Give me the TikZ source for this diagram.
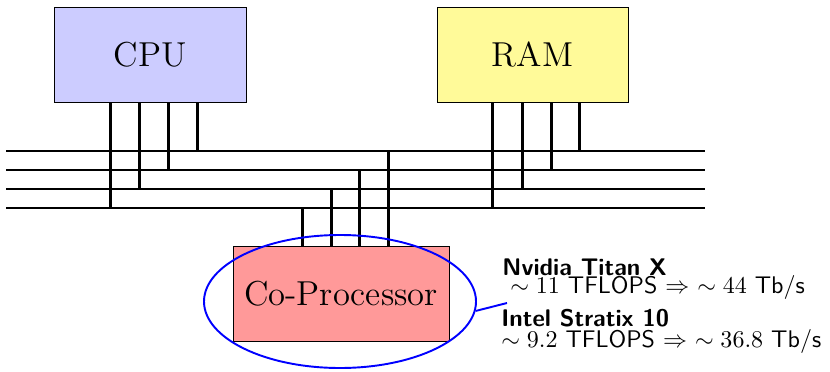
\documentclass[tikz,border=0pt]{standalone}
\usetikzlibrary{shapes.geometric,calc}
\begin{document}
\begin{tikzpicture}[x=0.416pt,y=-0.416pt,
  unitbox/.style={draw,line width=0.4pt,rectangle,minimum width=#1*0.416pt,minimum height=95*0.416pt,inner sep=0pt,font=\Large},
  busline/.style={line width=0.9pt},
  wire/.style={line width=0.9pt},
  spec/.style={anchor=base west,inner sep=0pt,font=\sffamily}]
\useasboundingbox (0,0) rectangle (830,371);
% boxes
\node[unitbox=192,fill=blue!20] (cpu) at (150,54.5) {CPU};
\node[unitbox=191,fill=yellow!40] (ram) at (532.5,54.5) {RAM};
\node[unitbox=216,fill=red!40] (cop) at (341,293.5) {Co-Processor};
% bus lines
\foreach \i/\y in {1/151,2/170,3/189,4/208}{
  \coordinate (b\i w) at (6,\y);
  \coordinate (b\i e) at (705,\y);
  \draw[busline] (b\i w) -- (b\i e);
}
% CPU wires
\foreach \off/\i in {57/4,86/3,115/2,144/1}{
  \draw[wire] ($(cpu.south west)+(\off,0)$) coordinate (t) -- (t |- b\i w);
}
% RAM wires
\foreach \off/\i in {56/4,86/3,115/2,143/1}{
  \draw[wire] ($(ram.south west)+(\off,0)$) coordinate (t) -- (t |- b\i w);
}
% Co-processor wires
\foreach \off/\i in {70/4,99/3,127/2,156/1}{
  \draw[wire] ($(cop.north west)+(\off,0)$) coordinate (t) -- (t |- b\i w);
}
% ellipse
\node[ellipse,draw=blue,line width=0.8pt,minimum width=272*0.416pt,minimum height=133*0.416pt,inner sep=0pt] (ell) at (340,301.5) {};
\coordinate (tip) at (507,303);
\draw[blue,line width=0.8pt] (ell.-4) -- (tip);
% spec texts
\node[spec] (n1) at (502,275) {\textbf{Nvidia Titan X}};
\node[spec] (n2) at (502,293) {\ $\sim 11$ TFLOPS $\Rightarrow$ $\sim 44$ Tb/s};
\node[spec] (n3) at (501,326) {\textbf{Intel Stratix 10}};
\node[spec] (n4) at (501,347) {$\sim 9.2$ TFLOPS $\Rightarrow$ $\sim 36.8$ Tb/s};
\end{tikzpicture}
\end{document}
